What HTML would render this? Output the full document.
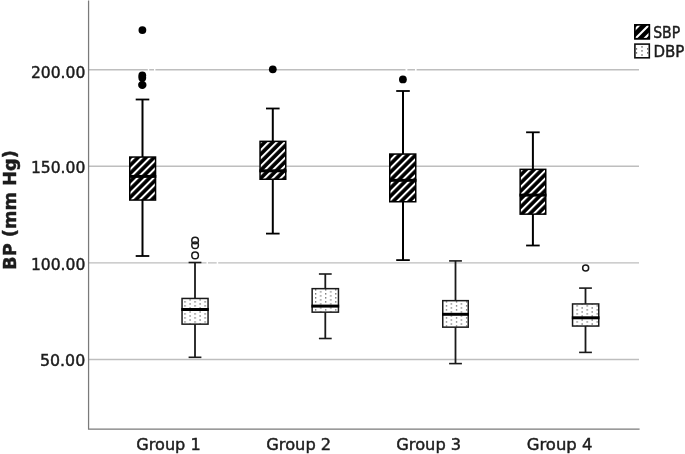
<!DOCTYPE html>
<html><head><meta charset="utf-8"><title>BP boxplot</title>
<style>
html,body{margin:0;padding:0;background:#fff;}
svg{display:block;}
text{font-family:"DejaVu Sans","Liberation Sans",sans-serif;fill:#1c1c1c;stroke:#1c1c1c;stroke-width:0.45px;}
</style></head><body>
<svg width="685" height="454" viewBox="0 0 685 454">
<defs>
<pattern id="hatch1" patternUnits="userSpaceOnUse" x="0" y="1.475" width="5.6569" height="5.6569" patternTransform="rotate(-45)"><rect x="0" y="0" width="5.6569" height="5.6569" fill="#000"/><rect x="0" y="0" width="5.6569" height="2" fill="#fff"/></pattern>
<pattern id="hatch2" patternUnits="userSpaceOnUse" x="0" y="1.051" width="5.6569" height="5.6569" patternTransform="rotate(-45)"><rect x="0" y="0" width="5.6569" height="5.6569" fill="#000"/><rect x="0" y="0" width="5.6569" height="2" fill="#fff"/></pattern>
<pattern id="hatch3" patternUnits="userSpaceOnUse" x="0" y="3.667" width="5.6569" height="5.6569" patternTransform="rotate(-45)"><rect x="0" y="0" width="5.6569" height="5.6569" fill="#000"/><rect x="0" y="0" width="5.6569" height="2" fill="#fff"/></pattern>
<pattern id="hatch4" patternUnits="userSpaceOnUse" x="0" y="1.616" width="5.6569" height="5.6569" patternTransform="rotate(-45)"><rect x="0" y="0" width="5.6569" height="5.6569" fill="#000"/><rect x="0" y="0" width="5.6569" height="2" fill="#fff"/></pattern>
<pattern id="dots" patternUnits="userSpaceOnUse" x="184.4" y="301.3" width="10.054" height="4.016">
<rect x="0" y="0" width="10.054" height="4.016" fill="#fff"/>
<rect x="0" y="0" width="1.2" height="1.2" fill="#4a4a4a"/>
<rect x="5.027" y="2.008" width="1.2" height="1.2" fill="#4a4a4a"/>
</pattern>
</defs>
<rect x="0" y="0" width="685" height="454" fill="#fff"/>

<line x1="89" y1="69.7" x2="639" y2="69.7" stroke="#bebebe" stroke-width="1.4"/>
<line x1="89" y1="166.3" x2="639" y2="166.3" stroke="#bebebe" stroke-width="1.4"/>
<line x1="89" y1="262.9" x2="639" y2="262.9" stroke="#bebebe" stroke-width="1.4"/>
<line x1="89" y1="359.5" x2="639" y2="359.5" stroke="#bebebe" stroke-width="1.4"/>
<rect x="147.8" y="68.5" width="1.4" height="2.4" fill="#fff"/>
<rect x="154" y="68.5" width="1.4" height="2.4" fill="#fff"/>
<rect x="405.5" y="68.5" width="1.9" height="2.4" fill="#fff"/>
<rect x="415" y="68.5" width="1.6" height="2.4" fill="#fff"/>
<rect x="206.5" y="261.7" width="1.5" height="2.4" fill="#fff"/>
<rect x="216.7" y="261.7" width="1.5" height="2.4" fill="#fff"/>
<polyline points="88.57,0.5 88.57,429.05 639.6,429.05" fill="none" stroke="#7a7a7a" stroke-width="1.25"/>
<text x="30.9" y="78.0" font-size="15.6" textLength="54.4" lengthAdjust="spacingAndGlyphs">200.00</text>
<text x="30.9" y="173.4" font-size="15.6" textLength="54.4" lengthAdjust="spacingAndGlyphs">150.00</text>
<text x="30.9" y="270.1" font-size="15.6" textLength="54.4" lengthAdjust="spacingAndGlyphs">100.00</text>
<text x="40.0" y="366.1" font-size="15.6" textLength="45.2" lengthAdjust="spacingAndGlyphs">50.00</text>
<text transform="translate(16.1,269.9) rotate(-90)" font-size="17" font-weight="bold" textLength="119.7" lengthAdjust="spacingAndGlyphs">BP (mm Hg)</text>
<text x="136.3" y="450.2" font-size="16" textLength="64.4" lengthAdjust="spacingAndGlyphs">Group 1</text>
<text x="266.3" y="450.2" font-size="16" textLength="64.9" lengthAdjust="spacingAndGlyphs">Group 2</text>
<text x="396.3" y="450.2" font-size="16" textLength="64.9" lengthAdjust="spacingAndGlyphs">Group 3</text>
<text x="526.7" y="450.2" font-size="16" textLength="65.8" lengthAdjust="spacingAndGlyphs">Group 4</text>
<clipPath id="lc"><rect x="634.9" y="24.9" width="14.4" height="13.8"/></clipPath>
<rect x="634.9" y="24.9" width="14.4" height="13.8" fill="#000" stroke="#000" stroke-width="1.6"/>
<g clip-path="url(#lc)" stroke="#fff" stroke-width="2.1">
<line x1="614.4" y1="50" x2="654.4" y2="10"/>
<line x1="624.0" y1="50" x2="664.0" y2="10"/>
<line x1="633.0" y1="50" x2="673.0" y2="10"/>
</g>
<rect x="634.9" y="24.9" width="14.4" height="13.8" fill="none" stroke="#000" stroke-width="1.6"/>
<rect x="634.9" y="44.1" width="14.4" height="13.7" fill="#fff" stroke="#111" stroke-width="1.6"/>
<rect x="641.35" y="46.25" width="1.3" height="1.3" fill="#444"/>
<rect x="641.35" y="50.25" width="1.3" height="1.3" fill="#444"/>
<rect x="641.35" y="54.35" width="1.3" height="1.3" fill="#444"/>
<rect x="635.85" y="48.25" width="1.3" height="1.3" fill="#444"/>
<rect x="635.85" y="52.25" width="1.3" height="1.3" fill="#444"/>
<rect x="647.05" y="48.25" width="1.3" height="1.3" fill="#444"/>
<rect x="647.05" y="52.25" width="1.3" height="1.3" fill="#444"/>
<text x="653.2" y="38.3" font-size="15.2" textLength="27.0" lengthAdjust="spacingAndGlyphs">SBP</text>
<text x="653.5" y="57.2" font-size="15.2" textLength="30.9" lengthAdjust="spacingAndGlyphs">DBP</text>
<line x1="142.5" y1="99.5" x2="142.5" y2="256.0" stroke="#000" stroke-width="2"/>
<line x1="135.7" y1="99.5" x2="149.3" y2="99.5" stroke="#000" stroke-width="1.8"/>
<line x1="135.7" y1="256.0" x2="149.3" y2="256.0" stroke="#000" stroke-width="1.8"/>
<rect x="129.75" y="157.05" width="25.80" height="43.00" fill="url(#hatch1)" stroke="#000" stroke-width="1.5"/>
<line x1="129" y1="176.4" x2="156.3" y2="176.4" stroke="#000" stroke-width="3"/>
<line x1="272.8" y1="108.5" x2="272.8" y2="233.6" stroke="#000" stroke-width="2"/>
<line x1="266.0" y1="108.5" x2="279.6" y2="108.5" stroke="#000" stroke-width="1.8"/>
<line x1="266.0" y1="233.6" x2="279.6" y2="233.6" stroke="#000" stroke-width="1.8"/>
<rect x="260.05" y="141.35" width="25.70" height="37.90" fill="url(#hatch2)" stroke="#000" stroke-width="1.5"/>
<line x1="259.3" y1="170.8" x2="286.5" y2="170.8" stroke="#000" stroke-width="3"/>
<line x1="403" y1="91" x2="403" y2="260.1" stroke="#000" stroke-width="2"/>
<line x1="396.2" y1="91" x2="409.8" y2="91" stroke="#000" stroke-width="1.8"/>
<line x1="396.2" y1="260.1" x2="409.8" y2="260.1" stroke="#000" stroke-width="1.8"/>
<rect x="389.75" y="154.05" width="26.00" height="47.70" fill="url(#hatch3)" stroke="#000" stroke-width="1.5"/>
<line x1="389.0" y1="180.3" x2="416.5" y2="180.3" stroke="#000" stroke-width="3"/>
<line x1="532.9" y1="132.3" x2="532.9" y2="245.5" stroke="#000" stroke-width="2"/>
<line x1="526.1" y1="132.3" x2="539.7" y2="132.3" stroke="#000" stroke-width="1.8"/>
<line x1="526.1" y1="245.5" x2="539.7" y2="245.5" stroke="#000" stroke-width="1.8"/>
<rect x="520.15" y="169.35" width="25.60" height="44.80" fill="url(#hatch4)" stroke="#000" stroke-width="1.5"/>
<line x1="519.4" y1="195.1" x2="546.5" y2="195.1" stroke="#000" stroke-width="3"/>
<line x1="195" y1="262.5" x2="195" y2="357.3" stroke="#1a1a1a" stroke-width="1.8"/>
<line x1="188.6" y1="262.5" x2="201.4" y2="262.5" stroke="#1a1a1a" stroke-width="1.6"/>
<line x1="188.6" y1="357.3" x2="201.4" y2="357.3" stroke="#1a1a1a" stroke-width="1.6"/>
<rect x="182.05" y="298.45" width="26.00" height="25.70" fill="url(#dots)" stroke="#1a1a1a" stroke-width="1.5"/>
<line x1="181.3" y1="309.5" x2="208.8" y2="309.5" stroke="#000" stroke-width="3"/>
<line x1="325.3" y1="274" x2="325.3" y2="338.5" stroke="#1a1a1a" stroke-width="1.8"/>
<line x1="318.9" y1="274" x2="331.7" y2="274" stroke="#1a1a1a" stroke-width="1.6"/>
<line x1="318.9" y1="338.5" x2="331.7" y2="338.5" stroke="#1a1a1a" stroke-width="1.6"/>
<rect x="312.15" y="288.65" width="26.30" height="23.50" fill="url(#dots)" stroke="#1a1a1a" stroke-width="1.5"/>
<line x1="311.4" y1="306.1" x2="339.2" y2="306.1" stroke="#000" stroke-width="3"/>
<line x1="455.5" y1="260.9" x2="455.5" y2="363.6" stroke="#1a1a1a" stroke-width="1.8"/>
<line x1="449.1" y1="260.9" x2="461.9" y2="260.9" stroke="#1a1a1a" stroke-width="1.6"/>
<line x1="449.1" y1="363.6" x2="461.9" y2="363.6" stroke="#1a1a1a" stroke-width="1.6"/>
<rect x="442.75" y="300.65" width="25.50" height="26.50" fill="url(#dots)" stroke="#1a1a1a" stroke-width="1.5"/>
<line x1="442" y1="314.3" x2="469.0" y2="314.3" stroke="#000" stroke-width="3"/>
<line x1="585.5" y1="288.1" x2="585.5" y2="352.4" stroke="#1a1a1a" stroke-width="1.8"/>
<line x1="579.1" y1="288.1" x2="591.9" y2="288.1" stroke="#1a1a1a" stroke-width="1.6"/>
<line x1="579.1" y1="352.4" x2="591.9" y2="352.4" stroke="#1a1a1a" stroke-width="1.6"/>
<rect x="572.55" y="303.95" width="26.20" height="22.10" fill="url(#dots)" stroke="#1a1a1a" stroke-width="1.5"/>
<line x1="571.8" y1="317.8" x2="599.5" y2="317.8" stroke="#000" stroke-width="3"/>
<circle cx="142.4" cy="30.1" r="3.9" fill="#000"/>
<circle cx="142.3" cy="75.4" r="3.9" fill="#000"/>
<circle cx="142.3" cy="77.8" r="3.9" fill="#000"/>
<circle cx="142.3" cy="84.9" r="4.2" fill="#000"/>
<circle cx="272.8" cy="69.3" r="3.9" fill="#000"/>
<circle cx="402.9" cy="79.4" r="3.9" fill="#000"/>
<circle cx="195.1" cy="240.5" r="3.3" fill="none" stroke="#1a1a1a" stroke-width="1.5"/>
<circle cx="195.1" cy="245.3" r="3.3" fill="none" stroke="#1a1a1a" stroke-width="1.5"/>
<circle cx="195.1" cy="255.4" r="3.3" fill="none" stroke="#1a1a1a" stroke-width="1.5"/>
<circle cx="585.65" cy="268.0" r="3.0" fill="none" stroke="#1a1a1a" stroke-width="1.5"/>
</svg></body></html>
